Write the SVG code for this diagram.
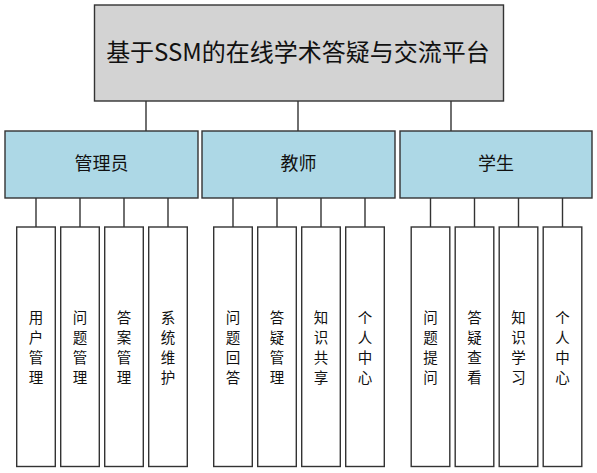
<svg xmlns="http://www.w3.org/2000/svg" width="597" height="473" viewBox="0 0 597 473">
<style>
.box{stroke:#333;stroke-width:1.4}
.root{fill:#d3d3d3}
.mid{fill:#add8e6}
.leaf{fill:#fff}
.t{font-family:"Noto Sans CJK SC","Microsoft YaHei",sans-serif;fill:#111;text-anchor:middle;dominant-baseline:central}
.conn line{stroke:#333;stroke-width:1.4}
</style>
<rect width="597" height="473" fill="#fff"/>
<g class="conn">
<line x1="146" y1="101" x2="146" y2="131"/>
<line x1="298" y1="101" x2="298" y2="131"/>
<line x1="451" y1="101" x2="451" y2="131"/>
<line x1="36" y1="198" x2="36" y2="227"/>
<line x1="80" y1="198" x2="80" y2="227"/>
<line x1="124" y1="198" x2="124" y2="227"/>
<line x1="168" y1="198" x2="168" y2="227"/>
<line x1="233" y1="198" x2="233" y2="227"/>
<line x1="277" y1="198" x2="277" y2="227"/>
<line x1="321" y1="198" x2="321" y2="227"/>
<line x1="365" y1="198" x2="365" y2="227"/>
<line x1="430.5" y1="198" x2="430.5" y2="227"/>
<line x1="474.5" y1="198" x2="474.5" y2="227"/>
<line x1="518.5" y1="198" x2="518.5" y2="227"/>
<line x1="562.5" y1="198" x2="562.5" y2="227"/>
</g>
<g id="root"><rect class="box root" x="94.5" y="5" width="409" height="96"/><text class="t" x="298" y="50" font-size="24">基于SSM的在线学术答疑与交流平台</text></g>
<g id="admin"><rect class="box mid" x="5" y="131" width="193" height="67"/><text class="t" x="101.5" y="162" font-size="18">管理员</text></g>
<g id="teacher"><rect class="box mid" x="202" y="131" width="193" height="67"/><text class="t" x="298.5" y="162" font-size="18">教师</text></g>
<g id="student"><rect class="box mid" x="400" y="131" width="192" height="67"/><text class="t" x="496" y="162" font-size="18">学生</text></g>

<g id="a1"><rect class="box leaf" x="16.7" y="227" width="38.6" height="239.5"/><text class="t" font-size="14.5"><tspan x="36" y="316">用</tspan><tspan x="36" dy="20">户</tspan><tspan x="36" dy="20">管</tspan><tspan x="36" dy="20">理</tspan></text></g>
<g id="a2"><rect class="box leaf" x="60.7" y="227" width="38.6" height="239.5"/><text class="t" font-size="14.5"><tspan x="80" y="316">问</tspan><tspan x="80" dy="20">题</tspan><tspan x="80" dy="20">管</tspan><tspan x="80" dy="20">理</tspan></text></g>
<g id="a3"><rect class="box leaf" x="104.7" y="227" width="38.6" height="239.5"/><text class="t" font-size="14.5"><tspan x="124" y="316">答</tspan><tspan x="124" dy="20">案</tspan><tspan x="124" dy="20">管</tspan><tspan x="124" dy="20">理</tspan></text></g>
<g id="a4"><rect class="box leaf" x="148.7" y="227" width="38.6" height="239.5"/><text class="t" font-size="14.5"><tspan x="168" y="316">系</tspan><tspan x="168" dy="20">统</tspan><tspan x="168" dy="20">维</tspan><tspan x="168" dy="20">护</tspan></text></g>

<g id="t1"><rect class="box leaf" x="213.7" y="227" width="38.6" height="239.5"/><text class="t" font-size="14.5"><tspan x="233" y="316">问</tspan><tspan x="233" dy="20">题</tspan><tspan x="233" dy="20">回</tspan><tspan x="233" dy="20">答</tspan></text></g>
<g id="t2"><rect class="box leaf" x="257.7" y="227" width="38.6" height="239.5"/><text class="t" font-size="14.5"><tspan x="277" y="316">答</tspan><tspan x="277" dy="20">疑</tspan><tspan x="277" dy="20">管</tspan><tspan x="277" dy="20">理</tspan></text></g>
<g id="t3"><rect class="box leaf" x="301.7" y="227" width="38.6" height="239.5"/><text class="t" font-size="14.5"><tspan x="321" y="316">知</tspan><tspan x="321" dy="20">识</tspan><tspan x="321" dy="20">共</tspan><tspan x="321" dy="20">享</tspan></text></g>
<g id="t4"><rect class="box leaf" x="345.7" y="227" width="38.6" height="239.5"/><text class="t" font-size="14.5"><tspan x="365" y="316">个</tspan><tspan x="365" dy="20">人</tspan><tspan x="365" dy="20">中</tspan><tspan x="365" dy="20">心</tspan></text></g>

<g id="s1"><rect class="box leaf" x="411.2" y="227" width="38.6" height="239.5"/><text class="t" font-size="14.5"><tspan x="430.5" y="316">问</tspan><tspan x="430.5" dy="20">题</tspan><tspan x="430.5" dy="20">提</tspan><tspan x="430.5" dy="20">问</tspan></text></g>
<g id="s2"><rect class="box leaf" x="455.2" y="227" width="38.6" height="239.5"/><text class="t" font-size="14.5"><tspan x="474.5" y="316">答</tspan><tspan x="474.5" dy="20">疑</tspan><tspan x="474.5" dy="20">查</tspan><tspan x="474.5" dy="20">看</tspan></text></g>
<g id="s3"><rect class="box leaf" x="499.2" y="227" width="38.6" height="239.5"/><text class="t" font-size="14.5"><tspan x="518.5" y="316">知</tspan><tspan x="518.5" dy="20">识</tspan><tspan x="518.5" dy="20">学</tspan><tspan x="518.5" dy="20">习</tspan></text></g>
<g id="s4"><rect class="box leaf" x="543.2" y="227" width="38.6" height="239.5"/><text class="t" font-size="14.5"><tspan x="562.5" y="316">个</tspan><tspan x="562.5" dy="20">人</tspan><tspan x="562.5" dy="20">中</tspan><tspan x="562.5" dy="20">心</tspan></text></g>
</svg>
